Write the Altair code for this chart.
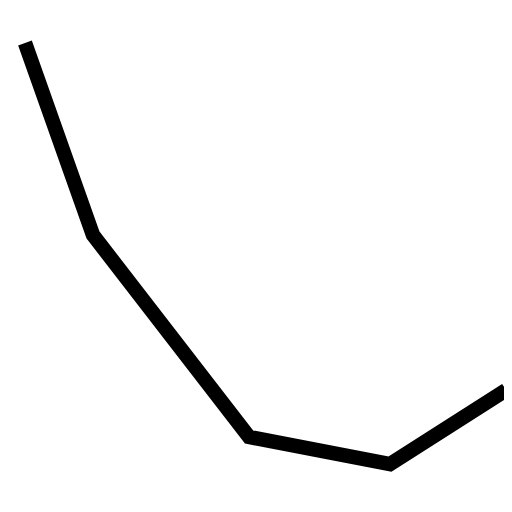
import altair as alt
import pandas as pd

# values (no axes shown)
xs = [17, 85, 241, 382, 498]
ys = [461, 269, 67, 40, 114]

df = pd.DataFrame({"x": xs, "y": ys})

chart = alt.Chart(df).mark_line(
    color="black", strokeWidth=14.5, strokeCap="butt", strokeJoin="miter", clip=False
).encode(
    x=alt.X("x:Q", scale=alt.Scale(domain=[0, 496], nice=False, zero=False), axis=None),
    y=alt.Y("y:Q", scale=alt.Scale(domain=[0, 496], nice=False, zero=False), axis=None),
).properties(
    width=496, height=496, padding=0, autosize=alt.AutoSizeParams(type="none")
).configure_view(stroke=None)

chart.save("out.html", embed_options={"renderer": "svg", "actions": False})
